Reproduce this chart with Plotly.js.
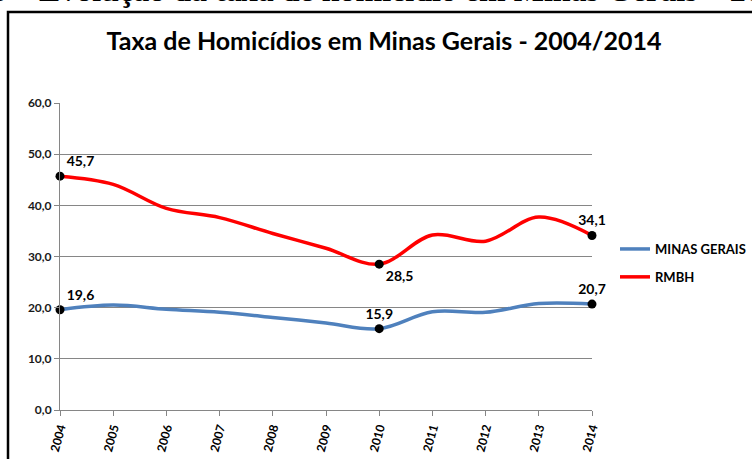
<!DOCTYPE html>
<html>
<head>
<meta charset="utf-8">
<script src="https://cdn.plot.ly/plotly-3.0.1.min.js"></script>
<style>html,body{margin:0;padding:0;background:#fff;}#chart{width:752px;height:459px;}</style>
</head>
<body>
<div id="chart"></div>
<script>
const years = ['2004','2005','2006','2007','2008','2009','2010','2011','2012','2013','2014'];
const minasGerais = [19.6, 20.5, 19.7, 19.1, 18.1, 17.0, 15.9, 19.2, 19.1, 20.8, 20.7];
const rmbh = [45.7, 44.1, 39.4, 37.6, 34.5, 31.6, 28.5, 34.2, 33.0, 37.7, 34.1];
const labelIdx = [0, 6, 10];
const mgLabelPos = ['top right', 'top center', 'top center'];
const rmbhLabelPos = ['top right', 'bottom right', 'top center'];
const seriesNames = ['MINAS GERAIS', 'RMBH'];
const chartTitle = 'Taxa de Homicídios em Minas Gerais - 2004/2014';
const captionText = '3 – Evolução da taxa de homicídio em Minas Gerais – 2004/2014';

const L = 60, R = 592, T = 103, B = 410, W = 752, H = 459;
const px = x => (x - L) / (R - L);
const py = y => (B - y) / (B - T);
const fmt = v => v.toFixed(1).replace('.', ',');

function pointTrace(vals, pos) {
  return {
    x: labelIdx.map(i => years[i]),
    y: labelIdx.map(i => vals[i]),
    text: labelIdx.map(i => fmt(vals[i])),
    mode: 'markers+text',
    type: 'scatter',
    marker: {color: '#000', size: 9},
    textposition: pos,
    textfont: {family: 'Lato, sans-serif', size: 14, color: '#000', weight: 'bold'},
    showlegend: false,
    hoverinfo: 'skip',
    cliponaxis: false
  };
}

const data = [
  {x: years, y: minasGerais, name: seriesNames[0], mode: 'lines', type: 'scatter',
   line: {color: '#4F81BD', width: 3.5, shape: 'spline', smoothing: 1}, legendgroup: 'a', cliponaxis: false},
  {x: years, y: rmbh, name: seriesNames[1], mode: 'lines', type: 'scatter',
   line: {color: '#FF0000', width: 3.5, shape: 'spline', smoothing: 1}, legendgroup: 'b', cliponaxis: false},
  pointTrace(minasGerais, mgLabelPos),
  pointTrace(rmbh, rmbhLabelPos)
];

const layout = {
  width: W, height: H,
  margin: {l: L, r: W - R, t: T, b: H - B, pad: 0, autoexpand: false},
  paper_bgcolor: '#fff', plot_bgcolor: '#fff',
  separators: ',.',
  font: {family: 'Lato, sans-serif', color: '#000'},
  title: {text: chartTitle, x: 384 / W, xanchor: 'center', xref: 'container',
          y: 1 - 41 / H, yanchor: 'middle', yref: 'container',
          font: {family: 'Lato, sans-serif', size: 25, color: '#000', weight: 'bold'}},
  xaxis: {type: 'category', range: [0, 10], showgrid: false, zeroline: false,
          showline: true, linecolor: '#868686', linewidth: 1,
          ticks: 'outside', ticklen: 5, tickcolor: '#868686', tickangle: -75,
          tickfont: {family: 'Lato, sans-serif', size: 12, color: '#000', weight: 'bold'}},
  yaxis: {range: [0, 60], dtick: 10, tickformat: '.1f', showgrid: true, gridcolor: '#868686', gridwidth: 1,
          zeroline: false, showline: true, linecolor: '#868686', linewidth: 1,
          ticks: 'outside', ticklen: 5, tickcolor: '#868686',
          tickfont: {family: 'Lato, sans-serif', size: 12, color: '#1a1a1a', weight: 'bold'}},
  legend: {x: px(615), y: py(234), xanchor: 'left', yanchor: 'top', tracegroupgap: 8,
           font: {family: 'Lato, sans-serif', size: 13, color: '#000', weight: 'bold'},
           bgcolor: 'rgba(0,0,0,0)'},
  shapes: [
    {type: 'rect', xref: 'paper', yref: 'paper', x0: px(8), x1: px(770), y0: py(480), y1: py(12),
     line: {color: '#000', width: 2.5}, fillcolor: 'rgba(0,0,0,0)', layer: 'below'}
  ],
  annotations: [
    {text: captionText, xref: 'paper', yref: 'paper', x: px(-11), y: py(9.5), xanchor: 'left', yanchor: 'bottom',
     showarrow: false, font: {family: 'Liberation Serif, serif', size: 32, color: '#000', weight: 'bold'}}
  ]
};

Plotly.newPlot('chart', data, layout, {displayModeBar: false, staticPlot: true});
</script>
</body>
</html>
